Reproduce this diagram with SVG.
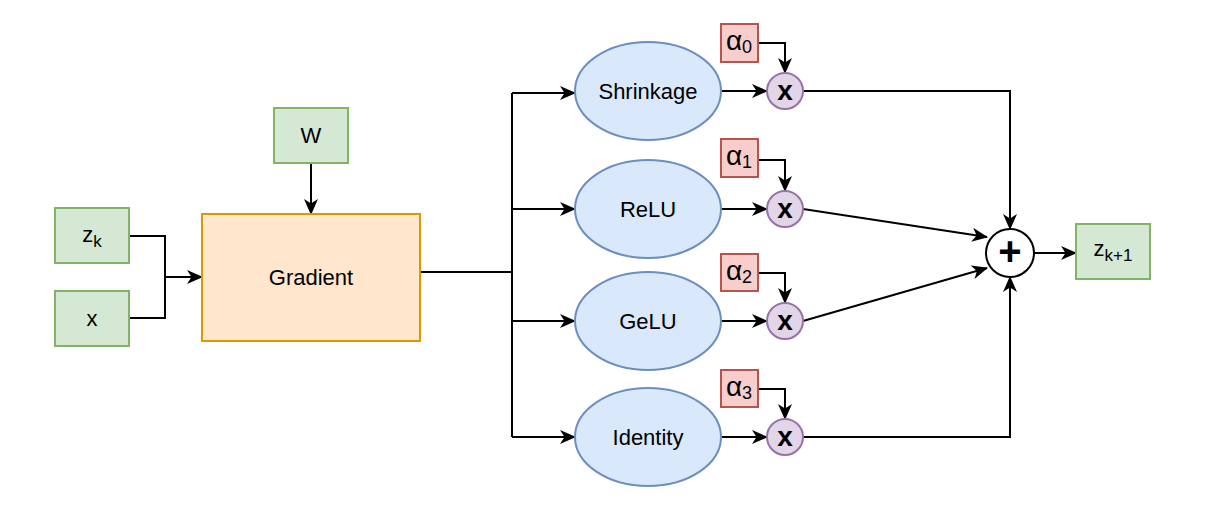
<svg xmlns="http://www.w3.org/2000/svg" width="1206" height="512" viewBox="0 0 1206 512">
<style>
.t{font-family:"Liberation Sans",Arial,sans-serif;font-size:22px;fill:#000;text-anchor:middle;dominant-baseline:central}
.b{font-weight:bold;font-size:28px}
.al{font-size:28px}
.pl{font-weight:bold;font-size:40px}
.g{fill:#d5e8d4;stroke:#82b366;stroke-width:2}
.o{fill:#ffe6cc;stroke:#d79b00;stroke-width:2}
.bl{fill:#dae8fc;stroke:#6c8ebf;stroke-width:2}
.r{fill:#f8cecc;stroke:#b85450;stroke-width:2}
.p{fill:#e1d5e7;stroke:#9673a6;stroke-width:2}
.w{fill:#fff;stroke:#000;stroke-width:2}
.c{fill:none;stroke:#000;stroke-width:2;marker-end:url(#a)}
.n{fill:none;stroke:#000;stroke-width:2}
</style>
<defs>
<marker id="a" markerUnits="userSpaceOnUse" markerWidth="16" markerHeight="14" refX="15" refY="7" orient="auto" viewBox="0 0 16 14">
<path d="M0,0 L16,7 L0,14 L4.5,7 Z" fill="#000"/>
</marker>
</defs>
<g id="connectors">
<path class="n" d="M129,236 H165 V318 H129"/>
<path class="c" d="M165,277 H202"/>
<path class="c" d="M311,163 V214"/>
<path class="n" d="M420,272 H512"/>
<path class="n" d="M512,93 V437"/>
<path class="c" d="M512,93 H575"/>
<path class="c" d="M512,209 H575"/>
<path class="c" d="M512,321 H575"/>
<path class="c" d="M512,437 H575"/>
<path class="c" d="M722,91 H767"/>
<path class="c" d="M722,209 H767"/>
<path class="c" d="M722,321 H767"/>
<path class="c" d="M722,437 H767"/>
<path class="c" d="M758,43 H785 V73"/>
<path class="c" d="M758,160 H785 V191"/>
<path class="c" d="M758,273 H785 V303"/>
<path class="c" d="M758,389 H785 V419"/>
<path class="c" d="M803,91 H1010 V229"/>
<path class="c" d="M803,209 L987,237"/>
<path class="c" d="M803,321 L987,268"/>
<path class="c" d="M803,437 H1010 V277"/>
<path class="c" d="M1034,253 H1076"/>
</g>
<g id="W"><rect class="g" x="274" y="108" width="74" height="55"/><text class="t" x="311" y="135.5">W</text></g>
<g id="zk"><rect class="g" x="55" y="208" width="74" height="55"/><text class="t" x="92" y="234">z<tspan font-size="17" dy="7">k</tspan></text></g>
<g id="x"><rect class="g" x="55" y="291" width="74" height="55"/><text class="t" x="92" y="318.5">x</text></g>
<g id="gradient"><rect class="o" x="202" y="214" width="218" height="127"/><text class="t" x="311" y="277.5">Gradient</text></g>
<g id="shrinkage"><ellipse class="bl" cx="648" cy="91" rx="73" ry="49"/><text class="t" x="648" y="91">Shrinkage</text></g>
<g id="relu"><ellipse class="bl" cx="648" cy="209" rx="73" ry="49"/><text class="t" x="648" y="209">ReLU</text></g>
<g id="gelu"><ellipse class="bl" cx="648" cy="321" rx="73" ry="49"/><text class="t" x="648" y="321">GeLU</text></g>
<g id="identity"><ellipse class="bl" cx="648" cy="437" rx="73" ry="49"/><text class="t" x="648" y="437">Identity</text></g>
<g id="a0"><rect class="r" x="721" y="24" width="37" height="38"/><text class="t al" x="739" y="40">α<tspan font-size="18" dy="7">0</tspan></text></g>
<g id="a1"><rect class="r" x="721" y="139" width="37" height="38"/><text class="t al" x="739" y="155">α<tspan font-size="18" dy="7">1</tspan></text></g>
<g id="a2"><rect class="r" x="721" y="254" width="37" height="37"/><text class="t al" x="739" y="270">α<tspan font-size="18" dy="7">2</tspan></text></g>
<g id="a3"><rect class="r" x="721" y="370" width="37" height="37"/><text class="t al" x="739" y="386">α<tspan font-size="18" dy="7">3</tspan></text></g>
<g id="m0"><circle class="p" cx="785" cy="91" r="18"/><text class="t b" x="785" y="90">x</text></g>
<g id="m1"><circle class="p" cx="785" cy="209" r="18"/><text class="t b" x="785" y="208">x</text></g>
<g id="m2"><circle class="p" cx="785" cy="321" r="18"/><text class="t b" x="785" y="320">x</text></g>
<g id="m3"><circle class="p" cx="785" cy="437" r="18"/><text class="t b" x="785" y="436">x</text></g>
<g id="plus"><circle class="w" cx="1010" cy="253" r="24"/><text class="t pl" x="1010" y="251">+</text></g>
<g id="zk1"><rect class="g" x="1076" y="224" width="74" height="55"/><text class="t" x="1113" y="248">z<tspan font-size="17" dy="7">k+1</tspan></text></g>
</svg>
